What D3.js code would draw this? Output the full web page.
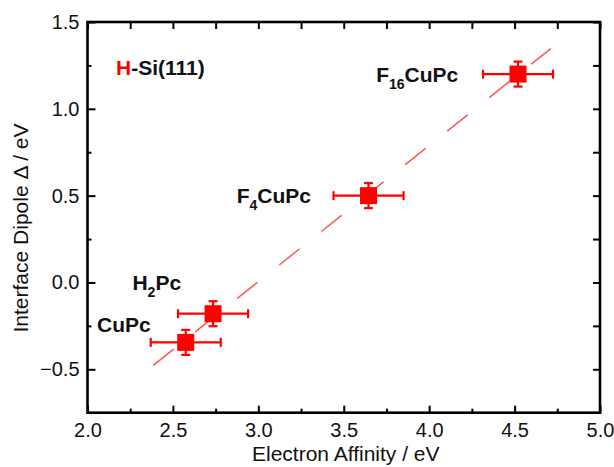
<!DOCTYPE html>
<html>
<head>
<meta charset="utf-8">
<script src="https://cdn.jsdelivr.net/npm/d3@7"></script>
<style>
html,body{margin:0;padding:0;background:#fff;}
svg{display:block;}
text{font-family:"Liberation Sans",Arial,sans-serif;}
</style>
</head>
<body>
<svg id="chart" width="614" height="467"></svg>
<script>
// ---- data ----
const materials = ["CuPc", "H2Pc", "F4CuPc", "F16CuPc"];
const electronAffinity = [2.575, 2.735, 3.645, 4.52];
const interfaceDipole = [-0.345, -0.18, 0.50, 1.20];
const xError = [0.205, 0.205, 0.205, 0.205];
const yError = [0.072, 0.072, 0.072, 0.072];
const fitRange = [2.385, 4.712];
const xMajorTicks = [2.0, 2.5, 3.0, 3.5, 4.0, 4.5, 5.0];
const yMajorTicks = [-0.5, 0.0, 0.5, 1.0, 1.5];
const xMinorTicks = [2.25, 2.75, 3.25, 3.75, 4.25, 4.75];
const yMinorTicks = [-0.25, 0.25, 0.75, 1.25];

const svg = d3.select("#chart");
const x = d3.scaleLinear().domain([2.0, 5.0]).range([87.5, 600]);
const y = d3.scaleLinear().domain([-0.75, 1.5]).range([412.7, 22]);
const red = "#ff0000";
const fmt = d3.format(".1f");

// least squares fit
const n = electronAffinity.length;
const mx = d3.mean(electronAffinity), my = d3.mean(interfaceDipole);
let sxy = 0, sxx = 0;
for (let i = 0; i < n; i++) {
  sxy += (electronAffinity[i] - mx) * (interfaceDipole[i] - my);
  sxx += (electronAffinity[i] - mx) ** 2;
}
const slope = sxy / sxx, intercept = my - slope * mx;

// axes
function styleAxis(g) {
  g.select(".domain").remove();
  g.selectAll("line").attr("stroke", "#000").attr("stroke-width", 2);
  g.selectAll("text").attr("font-size", 20).attr("fill", "#111");
}
svg.append("g").attr("transform", `translate(0,${y.range()[0]})`)
  .call(d3.axisBottom(x).tickValues(xMajorTicks).tickFormat(fmt).tickSize(-7).tickPadding(10))
  .call(styleAxis);
svg.append("g").attr("transform", `translate(0,${y.range()[0]})`)
  .call(d3.axisBottom(x).tickValues(xMinorTicks).tickFormat("").tickSize(-4))
  .call(styleAxis);
svg.append("g").attr("transform", `translate(0,${y.range()[1]})`)
  .call(d3.axisTop(x).tickValues(xMajorTicks.concat(xMinorTicks)).tickFormat("").tickSize(-7))
  .call(styleAxis);
svg.append("g").attr("transform", `translate(${x.range()[0]},0)`)
  .call(d3.axisLeft(y).tickValues(yMajorTicks).tickFormat(fmt).tickSize(-8).tickPadding(8))
  .call(styleAxis);
svg.append("g").attr("transform", `translate(${x.range()[0]},0)`)
  .call(d3.axisLeft(y).tickValues(yMinorTicks).tickFormat("").tickSize(-4))
  .call(styleAxis);
svg.append("g").attr("transform", `translate(${x.range()[1]},0)`)
  .call(d3.axisRight(y).tickValues(yMajorTicks.concat(yMinorTicks)).tickFormat("").tickSize(-7))
  .call(styleAxis);

// frame
svg.append("rect")
  .attr("x", x.range()[0]).attr("y", y.range()[1])
  .attr("width", x.range()[1] - x.range()[0])
  .attr("height", y.range()[0] - y.range()[1])
  .attr("fill", "none").attr("stroke", "#000").attr("stroke-width", 2.6);

// axis titles
svg.append("text")
  .attr("x", (x.range()[0] + x.range()[1]) / 2 + 2).attr("y", 461)
  .attr("text-anchor", "middle").attr("font-size", 21).attr("fill", "#111")
  .text("Electron Affinity / eV");
svg.append("text")
  .attr("transform", `translate(28,${228}) rotate(-90)`)
  .attr("text-anchor", "middle").attr("font-size", 21).attr("fill", "#111")
  .text("Interface Dipole \u0394 / eV");

// fit line
svg.append("line")
  .attr("x1", x(fitRange[0])).attr("y1", y(slope * fitRange[0] + intercept))
  .attr("x2", x(fitRange[1])).attr("y2", y(slope * fitRange[1] + intercept))
  .attr("stroke", "#f03030").attr("stroke-opacity", 0.8).attr("stroke-width", 1.5)
  .attr("stroke-dasharray", "26,27.7");

// error bars
const pts = materials.map((m, i) => ({m, x: electronAffinity[i], y: interfaceDipole[i], ex: xError[i], ey: yError[i]}));
const eg = svg.append("g").attr("stroke", red).attr("stroke-width", 2.2);
pts.forEach(p => {
  eg.append("line").attr("x1", x(p.x - p.ex)).attr("x2", x(p.x + p.ex)).attr("y1", y(p.y)).attr("y2", y(p.y));
  eg.append("line").attr("x1", x(p.x)).attr("x2", x(p.x)).attr("y1", y(p.y - p.ey)).attr("y2", y(p.y + p.ey));
  [p.x - p.ex, p.x + p.ex].forEach(v => eg.append("line").attr("x1", x(v)).attr("x2", x(v)).attr("y1", y(p.y) - 4.5).attr("y2", y(p.y) + 4.5));
  [p.y - p.ey, p.y + p.ey].forEach(v => eg.append("line").attr("y1", y(v)).attr("y2", y(v)).attr("x1", x(p.x) - 4.5).attr("x2", x(p.x) + 4.5));
});
// markers
const s = 17;
svg.append("g").selectAll("rect").data(pts).join("rect")
  .attr("x", d => x(d.x) - s / 2).attr("y", d => y(d.y) - s / 2)
  .attr("width", s).attr("height", s).attr("fill", red);

// labels
const lab = svg.append("g").attr("font-size", 21).attr("font-weight", "bold").attr("fill", "#111");
function addLabel(px, py, parts) {
  const t = lab.append("text").attr("x", x(px)).attr("y", y(py));
  let prevSub = false;
  parts.forEach(([txt, sub, col]) => {
    const ts = t.append("tspan").text(txt);
    if (col) ts.attr("fill", col);
    if (sub) ts.attr("font-size", 14).attr("dy", 7);
    else if (prevSub) ts.attr("dy", -7);
    prevSub = sub;
  });
}
addLabel(2.167, 1.195, [["H", false, red], ["-Si(111)", false]]);
addLabel(3.69, 1.154, [["F", false], ["16", true], ["CuPc", false]]);
addLabel(2.873, 0.458, [["F", false], ["4", true], ["CuPc", false]]);
addLabel(2.263, -0.043, [["H", false], ["2", true], ["Pc", false]]);
addLabel(2.056, -0.285, [["CuPc", false]]);
</script>
</body>
</html>
